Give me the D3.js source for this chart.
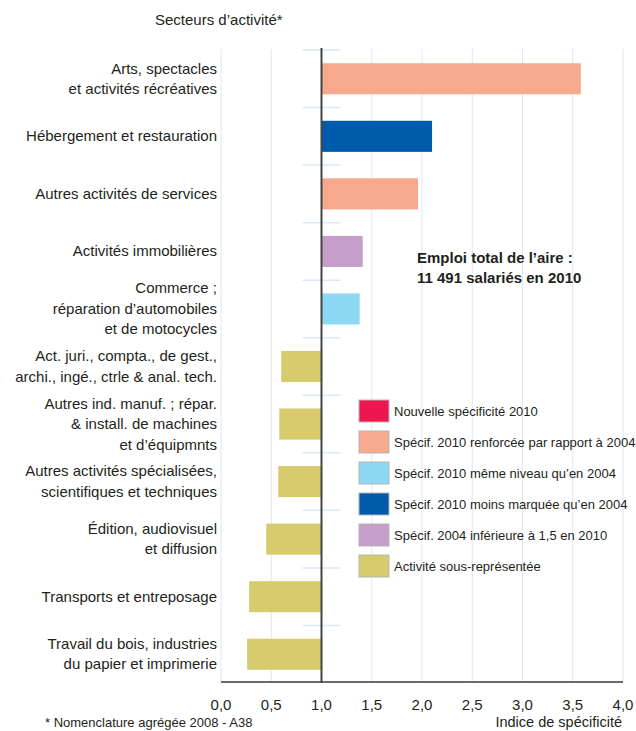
<!DOCTYPE html>
<html>
<head>
<meta charset="utf-8">
<script src="https://cdn.jsdelivr.net/npm/d3@7"></script>
<style>
  body { margin: 0; background: #fff; }
  svg { display: block; font-family: 'Liberation Sans', Arial, sans-serif; }
</style>
</head>
<body>
<svg></svg>
<script>
const w = 636;
const h = 731;
const svg = d3.select('svg').attr('width', w).attr('height', h);

// data
const categories = [
  'Arts, spectacles|et activités récréatives',
  'Hébergement et restauration',
  'Autres activités de services',
  'Activités immobilières',
  'Commerce ;|réparation d’automobiles|et de motocycles',
  'Act. juri., compta., de gest.,|archi., ingé., ctrle & anal. tech.',
  'Autres ind. manuf. ; répar.|& install. de machines|et d’équipmnts',
  'Autres activités spécialisées,|scientifiques et techniques',
  'Édition, audiovisuel|et diffusion',
  'Transports et entreposage',
  'Travail du bois, industries|du papier et imprimerie',
];
const values = [3.58, 2.1, 1.96, 1.41, 1.38, 0.6, 0.58, 0.57, 0.45, 0.28, 0.26];
const types = [1, 3, 1, 4, 2, 5, 5, 5, 5, 5, 5];

const legendLabels = [
  'Nouvelle spécificité 2010',
  'Spécif. 2010 renforcée par rapport à 2004',
  'Spécif. 2010 même niveau qu’en 2004',
  'Spécif. 2010 moins marquée qu’en 2004',
  'Spécif. 2004 inférieure à 1,5 en 2010',
  'Activité sous-représentée',
];
const colors = ['#ee1651', '#f7a98e', '#8dd8f5', '#005baa', '#c59fc9', '#d7cb6e'];
const ticks = [0, 0.5, 1, 1.5, 2, 2.5, 3, 3.5, 4];

const textColor = '#231f20';

const xScale = d3.scaleLinear().domain([0, 4]).range([221, 623]);
const yScale = d3
  .scaleBand()
  .domain(categories)
  .range([50, 683])
  .paddingInner(0.46)
  .paddingOuter(0.23);
const step = yScale.step();

// grid
svg
  .selectAll('line.grid')
  .data(ticks.filter((t) => t !== 1))
  .enter()
  .append('line')
  .attr('x1', (d) => xScale(d))
  .attr('x2', (d) => xScale(d))
  .attr('y1', 49)
  .attr('y2', 682)
  .attr('stroke', '#dde8f4')
  .attr('stroke-width', 1);

// small separators around the 1.0 axis
svg
  .selectAll('line.sep')
  .data(categories)
  .enter()
  .append('line')
  .attr('x1', xScale(1) - 19)
  .attr('x2', xScale(1) + 19)
  .attr('y1', (d) => yScale(d) - step * 0.23)
  .attr('y2', (d) => yScale(d) - step * 0.23)
  .attr('stroke', '#dce9f5')
  .attr('stroke-width', 1.5);

// bars
svg
  .selectAll('rect.bar')
  .data(values)
  .enter()
  .append('rect')
  .attr('x', (d) => Math.min(xScale(d), xScale(1)))
  .attr('y', (d, i) => yScale(categories[i]))
  .attr('width', (d) => Math.abs(xScale(d) - xScale(1)))
  .attr('height', yScale.bandwidth())
  .attr('fill', (d, i) => colors[types[i]]);

// axes lines
svg
  .append('line')
  .attr('x1', xScale(0))
  .attr('x2', xScale(4))
  .attr('y1', 682)
  .attr('y2', 682)
  .attr('stroke', '#3a3a3a')
  .attr('stroke-width', 1.5);
svg
  .append('line')
  .attr('x1', xScale(1))
  .attr('x2', xScale(1))
  .attr('y1', 48)
  .attr('y2', 683)
  .attr('stroke', '#444')
  .attr('stroke-width', 2);

// tick labels
svg
  .selectAll('text.tick')
  .data(ticks)
  .enter()
  .append('text')
  .attr('x', (d) => xScale(d))
  .attr('y', 710)
  .attr('text-anchor', 'middle')
  .attr('font-size', 15)
  .attr('fill', textColor)
  .text((d) => d3.format('.1f')(d).replace('.', ','));

// category labels
const labels = svg
  .selectAll('text.cat')
  .data(categories)
  .enter()
  .append('text')
  .attr('text-anchor', 'end')
  .attr('font-size', 15)
  .attr('fill', textColor);
labels.each(function (d) {
  const lines = d.split('|');
  const cy = yScale(d) + yScale.bandwidth() / 2;
  const lh = 20.5;
  d3.select(this)
    .selectAll('tspan')
    .data(lines)
    .enter()
    .append('tspan')
    .attr('x', 217)
    .attr('y', (l, i) => cy + 5 + (i - (lines.length - 1) / 2) * lh)
    .text((l) => l);
});

// title & notes
svg
  .append('text')
  .attr('x', 155)
  .attr('y', 25)
  .attr('font-size', 15)
  .attr('fill', textColor)
  .text('Secteurs d’activité*');
svg
  .append('text')
  .attr('x', 45)
  .attr('y', 727)
  .attr('font-size', 13)
  .attr('fill', textColor)
  .text('* Nomenclature agrégée 2008 - A38');
svg
  .append('text')
  .attr('x', 622)
  .attr('y', 727)
  .attr('text-anchor', 'end')
  .attr('font-size', 14.5)
  .attr('fill', textColor)
  .text('Indice de spécificité');

const note = svg
  .append('text')
  .attr('font-size', 15)
  .attr('font-weight', 'bold')
  .attr('fill', textColor);
note.append('tspan').attr('x', 417).attr('y', 262.5).text('Emploi total de l’aire :');
note.append('tspan').attr('x', 417).attr('y', 283).text('11 491 salariés en 2010');

// legend
const legend = svg
  .selectAll('g.legend')
  .data(legendLabels)
  .enter()
  .append('g')
  .attr('transform', (d, i) => `translate(359, ${400 + i * 31})`);
legend
  .append('rect')
  .attr('width', 30)
  .attr('height', 22)
  .attr('fill', (d, i) => colors[i])
  .attr('stroke', '#b5b5b5')
  .attr('stroke-width', 1);
legend
  .append('text')
  .attr('x', 35)
  .attr('y', 16)
  .attr('font-size', 13)
  .attr('fill', textColor)
  .text((d) => d);
</script>
</body>
</html>
